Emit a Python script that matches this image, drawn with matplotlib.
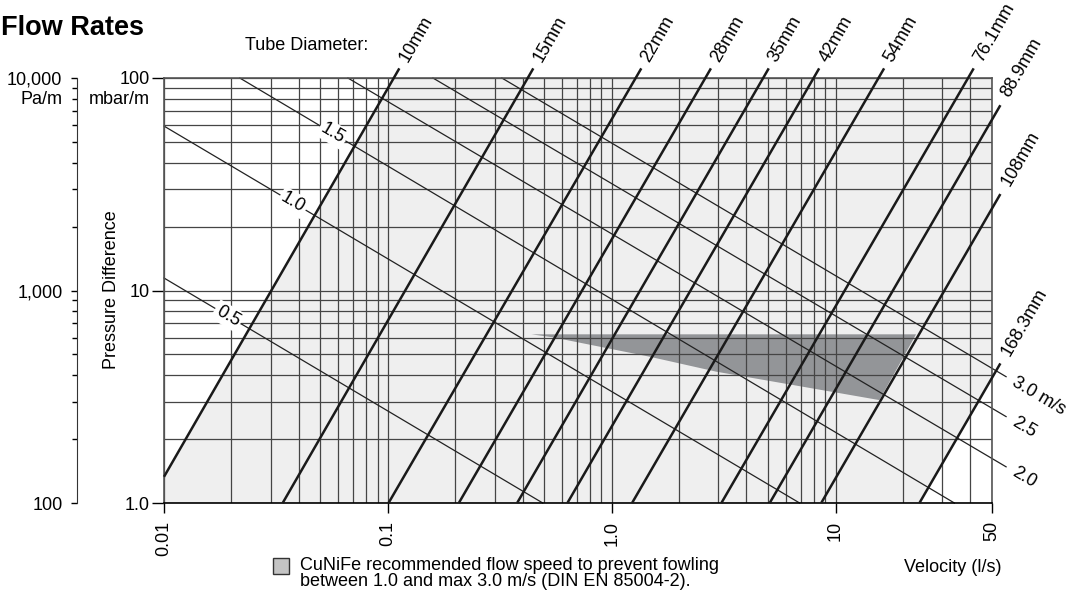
import numpy as np
import matplotlib.pyplot as plt
from matplotlib.ticker import FixedLocator, LogLocator, NullFormatter
from matplotlib.patches import Rectangle

plt.rcParams['font.family'] = ['Liberation Sans', 'DejaVu Sans']

W, H = 1079, 594

# tube diameter lines: flow (l/s) where each line meets 1.0 and 100 mbar/m
dia_labels = ['10mm', '15mm', '22mm', '28mm', '35mm', '42mm', '54mm',
              '76.1mm', '88.9mm', '108mm', '168.3mm']
dia_q_at_1 = [0.00856, 0.0339, 0.1007, 0.2075, 0.378, 0.634, 1.233,
              3.09, 5.08, 8.63, 23.7]
dia_q_at_100 = [0.1063, 0.4217, 1.28, 2.62, 4.75, 7.98, 15.56,
                39.1, 64.1, 108.9, 299]

# velocity lines (m/s): start and end points (flow l/s, pressure mbar/m)
vel_labels = ['0.5', '1.0', '1.5', '2.0', '2.5', '3.0 m/s']
vel_q_start = [0.01, 0.01, 0.0218, 0.0663, 0.159, 0.323]
vel_r_start = [11.45, 59.4, 100, 100, 100, 100]
vel_q_end = [0.492, 6.91, 33.96, 57.8, 57.8, 57.8]
vel_r_end = [1.0, 1.0, 1.0, 1.48, 2.55, 3.93]
vel_label_q = [0.0193, 0.0377, 0.0568, 62, 62, 62]

# CuNiFe recommended area
cunife_q = [0.438, 22.9, 15.7, 5.82, 2.93, 1.478, 0.745, 0.547]
cunife_r = [6.22, 6.22, 3.05, 3.66, 4.15, 4.88, 5.64, 6.02]

x_ticks = [0.01, 0.1, 1, 10, 50]
x_ticklabels = ['0.01', '0.1', '1.0', '10', '50']
y_ticks = [1, 10, 100]
y_ticklabels = ['1.0', '10', '100']
pa_ticks = [100, 1000, 10000]
pa_ticklabels = ['100', '1,000', '10,000']


def dia_k(i):
    return 2 / np.log10(dia_q_at_100[i] / dia_q_at_1[i])


def dia_r(i, q):
    return 10 ** (dia_k(i) * np.log10(q / dia_q_at_1[i]))


def dia_q(i, r):
    return dia_q_at_1[i] * r ** (1 / dia_k(i))


def vel_r(i, q):
    lq0, lq1 = np.log10(vel_q_start[i]), np.log10(vel_q_end[i])
    lr0, lr1 = np.log10(vel_r_start[i]), np.log10(vel_r_end[i])
    return 10 ** (lr0 + (np.log10(q) - lq0) * (lr1 - lr0) / (lq1 - lq0))


fig = plt.figure(figsize=(W / 100, H / 100), dpi=100)
left, bottom = 164 / W, 1 - 503 / H
width, height = (992 - 164) / W, (503 - 78) / H
ax = fig.add_axes([left, bottom, width, height])
ax.set_xscale('log')
ax.set_yscale('log')
ax.set_xlim(0.01, 50)
ax.set_ylim(1, 100)

# light grey band between the 10mm and 168.3mm lines
gray_q = [0.01, dia_q(0, 100), 50, 50, dia_q_at_1[-1], 0.01]
gray_r = [dia_r(0, 0.01), 100, 100, dia_r(len(dia_labels) - 1, 50), 1, 1]
ax.fill(gray_q, gray_r, color='#efefef', lw=0, zorder=0.1)
ax.fill(cunife_q, cunife_r, color='#939598', lw=0, zorder=0.2)

ax.xaxis.set_major_locator(FixedLocator(x_ticks))
ax.xaxis.set_minor_locator(LogLocator(base=10, subs=np.arange(2, 10)))
ax.xaxis.set_minor_formatter(NullFormatter())
ax.set_xticklabels(x_ticklabels, rotation=90)
ax.yaxis.set_major_locator(FixedLocator(y_ticks))
ax.yaxis.set_minor_locator(LogLocator(base=10, subs=np.arange(2, 10)))
ax.yaxis.set_minor_formatter(NullFormatter())
ax.set_yticklabels(y_ticklabels)
ax.set_axisbelow(True)
ax.grid(True, which='both', color='#454545', lw=0.9)
ax.tick_params(which='minor', length=0)
ax.tick_params(axis='x', which='major', direction='out', length=7, width=1,
               pad=6, labelsize=13)
ax.tick_params(axis='y', which='major', direction='out', length=8.5, width=1,
               pad=1.5, labelsize=13)
for s in ax.spines.values():
    s.set_color('#555555')
    s.set_linewidth(1.2)
ax.spines['bottom'].set_color('black')

# tube diameter lines
for i, lab in enumerate(dia_labels):
    q0 = max(0.01, dia_q(i, 1.0))
    r0 = dia_r(i, q0)
    if dia_q(i, 111) <= 50:
        q1, r1 = dia_q(i, 111), 111
        lq, lr = dia_q(i, 120), 120
    else:
        q1, r1 = 54.5, dia_r(i, 54.5)
        lq, lr = 57.5, dia_r(i, 57.5)
    ax.plot([q0, q1], [r0, r1], color='#1a1a1a', lw=1.8, clip_on=False,
            zorder=3, solid_capstyle='butt')
    ax.text(lq, lr, lab, rotation=60, rotation_mode='anchor', ha='left',
            va='center', fontsize=13)

# velocity lines
for i, lab in enumerate(vel_labels):
    ax.plot([vel_q_start[i], vel_q_end[i]], [vel_r_start[i], vel_r_end[i]],
            color='#222222', lw=0.9, clip_on=False, zorder=2.5)
    q = vel_label_q[i]
    if q < 1:
        ax.text(q, vel_r(i, q), lab, rotation=-30.5, rotation_mode='anchor',
                ha='center', va='center', fontsize=13, zorder=4,
                bbox=dict(boxstyle='square,pad=0.12', fc='white', ec='none'))
    else:
        ax.text(q, vel_r(i, q), lab, rotation=-30.5, rotation_mode='anchor',
                ha='left', va='center', fontsize=13)

# Pa/m scale on the far left
ax2 = fig.add_axes([77 / W, bottom, 0.0005, height])
ax2.set_yscale('log')
ax2.set_ylim(100, 10000)
ax2.set_xticks([])
for s in ['right', 'top', 'bottom']:
    ax2.spines[s].set_visible(False)
ax2.spines['left'].set_color('#333333')
ax2.patch.set_visible(False)
ax2.yaxis.set_major_locator(FixedLocator(pa_ticks))
ax2.set_yticklabels(pa_ticklabels)
ax2.yaxis.set_minor_locator(LogLocator(base=10, subs=np.arange(2, 10)))
ax2.yaxis.set_minor_formatter(NullFormatter())
ax2.tick_params(which='major', length=4.5, width=1, pad=6, labelsize=13)
ax2.tick_params(which='minor', length=3.6, width=1)

fig.text(1 / W, 1 - 35 / H, 'Flow Rates', fontsize=19.5, fontweight='bold',
         va='baseline', ha='left')
fig.text(245 / W, 1 - 50 / H, 'Tube Diameter:', fontsize=13, va='baseline')
fig.text(63 / W, 1 - 100 / H, 'Pa/m', ha='right', va='center', fontsize=13)
fig.text(150 / W, 1 - 100 / H, 'mbar/m', ha='right', va='center', fontsize=13)
fig.text(112 / W, 1 - 290 / H, 'Pressure Difference', rotation=90,
         ha='center', va='center', fontsize=13)
fig.text(1002 / W, 1 - 568 / H, 'Velocity (l/s)', ha='right', va='center',
         fontsize=13)
fig.patches.append(Rectangle((273 / W, 1 - 574 / H), 16 / W, 16 / H,
                             transform=fig.transFigure, fc='#c4c4c4',
                             ec='#333333', lw=1))
fig.text(300 / W, 1 - 557 / H,
         'CuNiFe recommended flow speed to prevent fowling\n'
         'between 1.0 and max 3.0 m/s (DIN EN 85004-2).',
         ha='left', va='top', fontsize=13, linespacing=0.95)

fig.savefig('out.png', dpi=100)
